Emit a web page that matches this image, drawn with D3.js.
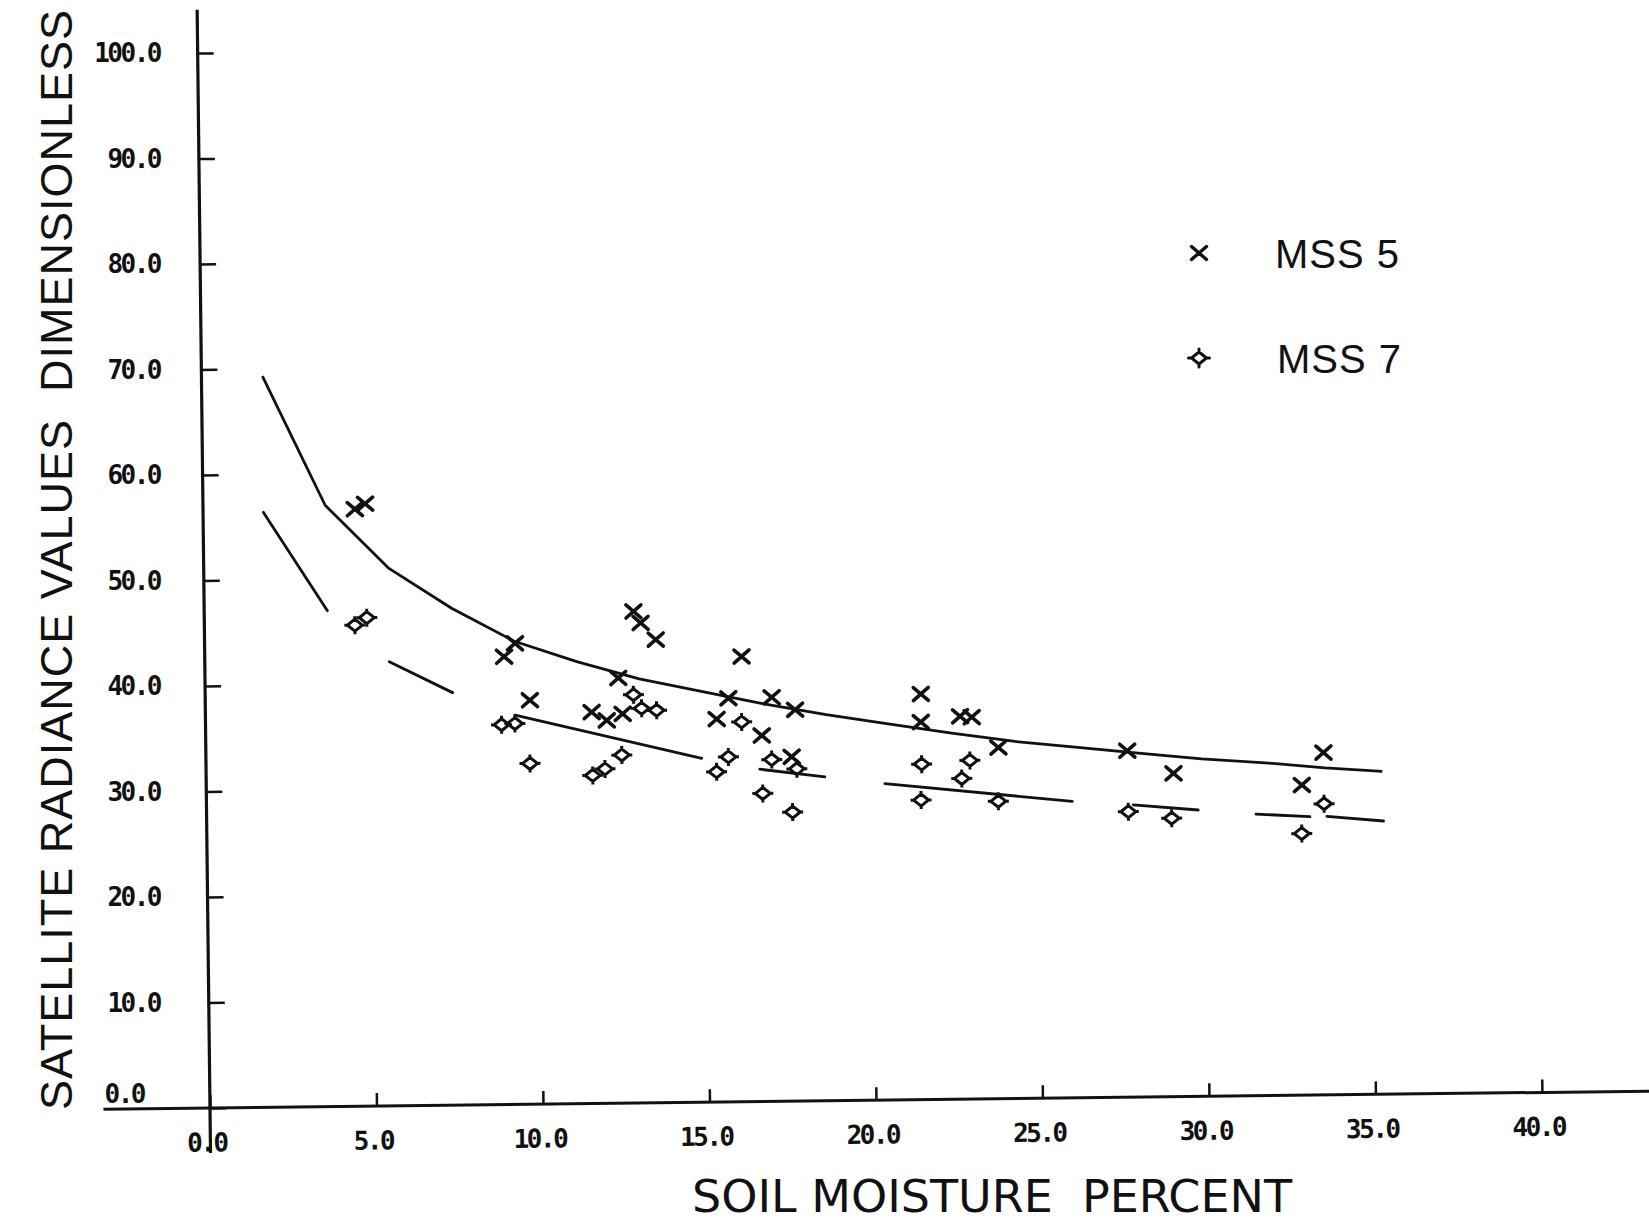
<!DOCTYPE html>
<html>
<head>
<meta charset="utf-8">
<script src="https://cdn.jsdelivr.net/npm/d3@7"></script>
<style>
  body { margin: 0; background: #fff; }
  svg { display: block; }
</style>
</head>
<body>
<div class="chart"></div>
<script>
// ticks
const xTicks = [0, 5, 10, 15, 20, 25, 30, 35, 40];
const yTicks = [0, 10, 20, 30, 40, 50, 60, 70, 80, 90, 100];

// MSS 5 points (x marks)
const mss5X = [4.56, 4.87, 9.32, 8.99, 12.89, 13.1, 13.55, 16.12, 12.41, 9.75, 11.6, 12.05, 12.53, 15.71, 15.35, 17.01, 17.71, 16.7, 17.59, 21.49, 21.48, 22.66, 23.01, 23.8, 27.67, 29.05, 33.56, 32.9];
const mss5Y = [56.6, 57.1, 43.7, 42.45, 46.6, 45.5, 43.9, 42.2, 40.3, 38.3, 37.1, 36.3, 36.9, 38.26, 36.3, 38.3, 37.1, 34.7, 32.65, 38.45, 35.8, 36.3, 36.2, 33.3, 32.85, 30.65, 32.45, 29.4];

// MSS 7 points (diamonds)
const mss7X = [4.52, 4.88, 8.89, 9.29, 9.73, 12.86, 13.1, 13.55, 12.49, 11.98, 11.61, 16.1, 15.69, 15.33, 16.99, 17.74, 16.71, 17.6, 21.49, 22.94, 22.69, 21.46, 23.78, 27.68, 28.98, 33.56, 32.88];
const mss7Y = [45.6, 46.3, 36.0, 36.1, 32.3, 38.7, 37.4, 37.2, 33.0, 31.7, 31.1, 36.0, 32.7, 31.3, 32.4, 31.5, 29.2, 27.4, 31.8, 32.1, 30.4, 28.4, 28.2, 27.07, 26.4, 27.6, 24.8];

// fitted curve for MSS 5
const mss5FitX = [1.83, 3.67, 5.54, 7.43, 9.3, 11.17, 13.04, 14.9, 16.77, 18.64, 20.5, 22.4, 24.3, 26.1, 28.0, 29.9, 31.8, 33.6, 35.32];
const mss5FitY = [69.3, 57.0, 51.0, 47.1, 43.9, 41.9, 40.2, 38.95, 37.7, 36.6, 35.65, 34.7, 33.85, 33.25, 32.6, 32.0, 31.55, 31.0, 30.6];

// broken fit pieces for MSS 7
const mss7Fit = [
	[[1.81, 56.4], [3.70, 47.0]],
	[[5.54, 42.1], [7.43, 39.1]],
	[[9.30, 36.9], [14.89, 32.6]],
	[[16.63, 31.5], [18.58, 30.7]],
	[[20.38, 30.0], [26.0, 28.1]],
	[[27.83, 27.7], [29.78, 27.15]],
	[[31.51, 26.7], [33.13, 26.4]],
	[[33.64, 26.4], [35.34, 25.9]],
];

const legendLabels = ['MSS 5', 'MSS 7'];

const width = 1649;
const height = 1224;
const origin = [210, 1108];
const tilt = -0.67; // the scanned sheet is turned a little
const ink = '#111';
const fmt = d3.format('.1f');
const tickFont = "'DejaVu Sans Mono', monospace";

const svg = d3.select('.chart').append('svg').attr('width', width).attr('height', height);
svg.append('rect').attr('width', width).attr('height', height).attr('fill', '#fff');

const x = d3.scaleLinear().domain([0, 40]).range([0, 1332]);
const y = d3.scaleLinear().domain([0, 100]).range([0, -1055]);

const plot = svg.append('g').attr('transform', `translate(${origin[0]},${origin[1]}) rotate(${tilt})`);

// axis lines
plot.append('line')
	.attr('x1', x(-3.2)).attr('x2', x(43.8))
	.attr('y1', 0).attr('y2', 0)
	.attr('stroke', ink).attr('stroke-width', 3);
plot.append('line')
	.attr('x1', 0).attr('x2', 0)
	.attr('y1', y(104.1)).attr('y2', 45)
	.attr('stroke', ink).attr('stroke-width', 3.2);

const xAxis = d3.axisBottom(x).tickValues(xTicks).tickSizeInner(-13).tickSizeOuter(0).tickPadding(25).tickFormat(fmt);
plot.append('g')
	.call(xAxis)
	.call(g => g.select('.domain').remove())
	.call(g => g.selectAll('.tick line').attr('stroke', ink).attr('stroke-width', 2.5))
	.call(g => g.selectAll('.tick text')
		.attr('fill', ink)
		.attr('dx', -4)
		.style('font-family', tickFont)
		.style('font-weight', 'bold')
		.style('font-size', '26px')
		.style('letter-spacing', '-2.5px'));

const yAxis = d3.axisRight(y).tickValues(yTicks).tickSizeInner(16).tickSizeOuter(0).tickFormat('');
plot.append('g')
	.call(yAxis)
	.call(g => g.select('.domain').remove())
	.call(g => g.selectAll('.tick line').attr('stroke', ink).attr('stroke-width', 2.5));

// y tick labels sit straight on the page, right aligned
const yNudge = { 0: [-16, -14] };
const cosT = Math.cos(tilt * Math.PI / 180);
svg.append('g')
	.selectAll('text')
	.data(yTicks)
	.join('text')
	.attr('x', d => 160 + (yNudge[d] ? yNudge[d][0] : 0))
	.attr('y', d => origin[1] + y(d) * cosT + (yNudge[d] ? yNudge[d][1] : 0))
	.attr('text-anchor', 'end')
	.attr('dy', '0.36em')
	.attr('fill', ink)
	.style('font-family', tickFont)
	.style('font-weight', 'bold')
	.style('font-size', '26px')
	.style('letter-spacing', '-2.5px')
	.text(d => fmt(d));

// fitted lines
const line = d3.line().x(d => x(d[0])).y(d => y(d[1]));
plot.append('path')
	.datum(d3.zip(mss5FitX, mss5FitY))
	.attr('d', line)
	.attr('fill', 'none')
	.attr('stroke', ink)
	.attr('stroke-width', 2.8)
	.attr('stroke-linejoin', 'round');
plot.selectAll('.fit7')
	.data(mss7Fit)
	.join('path')
	.attr('class', 'fit7')
	.attr('d', line)
	.attr('fill', 'none')
	.attr('stroke', ink)
	.attr('stroke-width', 2.8)
	.attr('stroke-linecap', 'round');

// markers
const crossPath = 'M-7.5,-6.5L7.5,6.5M-7.5,6.5L7.5,-6.5';
const diamondPath = 'M0,-6L7.5,0L0,6L-7.5,0Z M0,-9V-6 M0,6V9 M-10.5,0H-7.5 M7.5,0H10.5';

plot.selectAll('.mss5')
	.data(d3.zip(mss5X, mss5Y))
	.join('path')
	.attr('class', 'mss5')
	.attr('transform', d => `translate(${x(d[0])},${y(d[1])})`)
	.attr('d', crossPath)
	.attr('fill', 'none')
	.attr('stroke', ink)
	.attr('stroke-width', 3.6)
	.attr('stroke-linecap', 'round');

plot.selectAll('.mss7')
	.data(d3.zip(mss7X, mss7Y))
	.join('path')
	.attr('class', 'mss7')
	.attr('transform', d => `translate(${x(d[0])},${y(d[1])})`)
	.attr('d', diamondPath)
	.attr('fill', 'none')
	.attr('stroke', ink)
	.attr('stroke-width', 3)
	.attr('stroke-linejoin', 'round');

// legend
const legend = svg.append('g');
const legendY = [253, 358];
legend.selectAll('path')
	.data(legendLabels)
	.join('path')
	.attr('transform', (d, i) => `translate(1199,${legendY[i]})`)
	.attr('d', (d, i) => (i === 0 ? crossPath : diamondPath))
	.attr('fill', 'none')
	.attr('stroke', ink)
	.attr('stroke-width', (d, i) => (i === 0 ? 3.4 : 3))
	.attr('stroke-linecap', 'round');
legend.selectAll('text')
	.data(legendLabels)
	.join('text')
	.attr('x', (d, i) => 1275 + i * 2)
	.attr('y', (d, i) => legendY[i] + 15)
	.attr('fill', ink)
	.style('font-family', "'Liberation Sans', Arial, sans-serif")
	.style('font-size', '40px')
	.style('letter-spacing', '1px')
	.text(d => d);

// axis titles
svg.append('text')
	.attr('transform', 'translate(72,560) rotate(-90)')
	.attr('text-anchor', 'middle')
	.attr('textLength', 1100)
	.attr('lengthAdjust', 'spacing')
	.attr('fill', ink)
	.style('font-family', "'Liberation Sans', Arial, sans-serif")
	.style('font-size', '45px')
	.style('white-space', 'pre')
	.text('SATELLITE RADIANCE VALUES  DIMENSIONLESS');

svg.append('text')
	.attr('x', 992)
	.attr('y', 1212)
	.attr('text-anchor', 'middle')
	.attr('textLength', 600)
	.attr('lengthAdjust', 'spacingAndGlyphs')
	.attr('fill', ink)
	.style('font-family', "'Liberation Sans Narrow', 'DejaVu Sans Condensed', sans-serif")
	.style('font-size', '44px')
	.style('white-space', 'pre')
	.text('SOIL MOISTURE  PERCENT');
</script>
</body>
</html>
